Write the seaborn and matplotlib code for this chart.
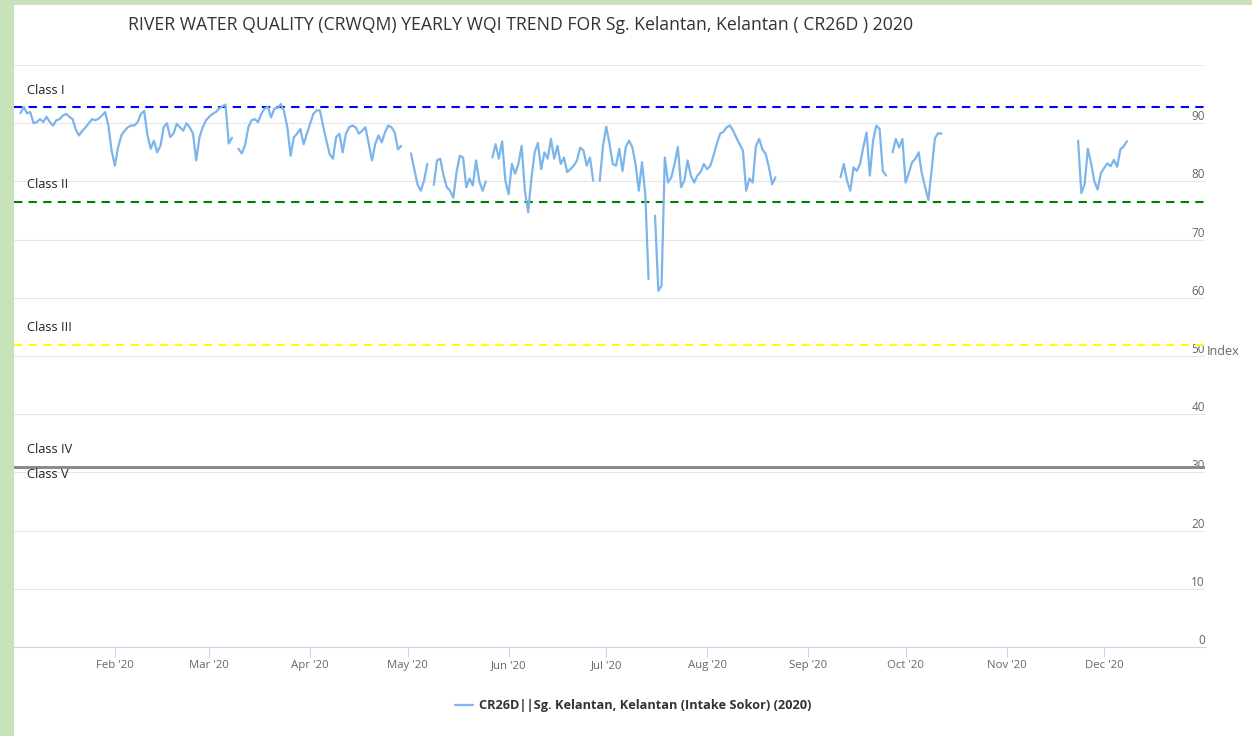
import pandas as pd
import matplotlib.pyplot as plt
import matplotlib.transforms as mtransforms
from matplotlib.lines import Line2D
from matplotlib.patches import Rectangle
import seaborn as sns

# Daily WQI readings, one list per unbroken run of the station record
wqi_jan_mar = [91.7, 92.8, 91.7, 91.9, 90.0, 90.2, 90.7, 90.2, 91.1, 90.2,
               89.6, 90.5, 90.7, 91.3, 91.6, 91.1, 90.7, 88.9, 87.9, 88.7,
               89.3, 90.0, 90.7, 90.5, 90.8, 91.3, 91.9, 89.6, 85.3, 82.7,
               85.9, 87.9, 88.7, 89.3, 89.6, 89.6, 90.2, 91.6, 92.1, 88.0,
               85.6, 87.0, 85.0, 86.1, 89.3, 90.0, 87.6, 88.2, 89.9, 89.3,
               88.7, 90.0, 89.3, 88.2, 83.6, 87.6, 89.3, 90.5, 91.1, 91.6,
               91.9, 92.5, 92.9, 93.2, 86.5, 87.5]
wqi_mar_apr = [85.6, 84.8, 86.2, 89.3, 90.5, 90.7, 90.2, 91.6, 92.5, 92.8,
               91.0, 92.5, 92.6, 93.3, 92.0, 89.3, 84.4, 87.6, 88.2, 89.0,
               86.4, 88.2, 89.9, 91.6, 92.2, 92.2, 89.5, 87.0, 84.7, 83.9,
               87.6, 88.2, 85.0, 88.2, 89.3, 89.6, 89.3, 88.2, 88.7, 89.3,
               86.5, 83.6, 86.4, 87.9, 86.7, 88.4, 89.6, 89.3, 88.4, 85.5,
               86.1]
wqi_may_1 = [84.8, 82.1, 79.5, 78.4, 80.1, 83.0]
wqi_may_2 = [79.4, 83.6, 83.9, 81.0, 79.0, 78.4, 77.2, 81.6, 84.4, 84.1,
             79.0, 80.5, 79.3, 83.6, 80.0, 78.4, 80.0]
wqi_may_jun = [84.1, 86.4, 83.9, 86.9, 80.1, 77.8, 83.0, 81.3, 83.0, 86.1,
               78.4, 74.7, 80.5, 85.0, 86.6, 82.1, 85.0, 83.9, 87.3, 83.9,
               86.1, 83.0, 84.1, 81.6, 82.1, 82.7, 83.6, 85.8, 85.3, 82.7,
               84.1, 80.1]
wqi_jun_jul = [80.1, 86.1, 89.4, 86.5, 83.0, 82.7, 85.6, 81.8, 85.9, 87.0,
               85.9, 83.0, 78.4, 83.3, 77.8, 63.2]
wqi_jul_aug = [74.1, 61.2, 62.1, 84.1, 79.8, 80.7, 83.0, 85.9, 79.0, 80.1,
               83.6, 81.0, 79.8, 81.0, 81.6, 83.0, 82.1, 82.7, 84.5, 86.5,
               88.2, 88.5, 89.3, 89.6, 88.7, 87.5, 86.4, 85.3, 78.4, 80.5,
               79.8, 86.1, 87.3, 85.5, 84.7, 82.4, 79.5, 80.7]
wqi_sep = [80.7, 83.0, 80.1, 78.4, 82.4, 81.8, 83.0, 85.9, 88.4, 81.0,
           87.0, 89.6, 89.0, 81.8, 81.0]
wqi_sep_oct = [85.0, 87.3, 85.8, 87.3, 79.8, 81.5, 83.3, 83.9, 85.0, 81.3,
               79.0, 76.8, 82.0, 87.4, 88.3, 88.2]
wqi_nov_dec = [87.0, 78.0, 79.5, 85.6, 83.1, 80.0, 78.6, 81.4, 82.3, 83.1,
               82.6, 83.7, 82.5, 85.5, 86.0, 86.9]

run_starts = ['2020-01-03', '2020-03-10', '2020-05-02', '2020-05-09', '2020-05-27',
              '2020-06-29', '2020-07-16', '2020-09-11', '2020-09-27', '2020-11-23']
runs = [wqi_jan_mar, wqi_mar_apr, wqi_may_1, wqi_may_2, wqi_may_jun,
        wqi_jun_jul, wqi_jul_aug, wqi_sep, wqi_sep_oct, wqi_nov_dec]

station = 'CR26D||Sg. Kelantan, Kelantan (Intake Sokor) (2020)'
title = 'RIVER WATER QUALITY (CRWQM) YEARLY WQI TREND FOR Sg. Kelantan, Kelantan ( CR26D ) 2020'

# WQI class limits
class_names = ['Class I', 'Class II', 'Class III', 'Class IV', 'Class V']
class_limits = [92.7, 76.5, 51.9, 31.0, 31.0]
class_colors = ['#0000ff', '#008000', '#ffff00', '#8a8a8a', '#8a8a8a']

month_ticks = pd.date_range('2020-02-01', '2020-12-01', freq='MS')
y_ticks = list(range(0, 101, 10))

# Build long table, one unit per run so gaps stay open
frames = []
for i, (start, vals) in enumerate(zip(run_starts, runs)):
    dates = pd.date_range(start, periods=len(vals), freq='D')
    frames.append(pd.DataFrame({'date': dates, 'wqi': vals, 'run': i}))
df = pd.concat(frames, ignore_index=True)

sns.set_theme(style='white')
plt.rcParams['font.family'] = ['Open Sans', 'DejaVu Sans']

W, H = 1252, 736
fig = plt.figure(figsize=(W / 100, H / 100), dpi=100)
fig.patch.set_facecolor('#c8e2b9')
fig.add_artist(Rectangle((14 / W, 0), 1, (H - 5) / H, transform=fig.transFigure,
                         facecolor='white', edgecolor='none', zorder=-5))

ax = fig.add_axes([14 / W, 89 / H, 1191 / W, 582 / H])
ax.set_facecolor('white')

sns.lineplot(data=df, x='date', y='wqi', units='run', estimator=None,
             color='#7cb5ec', linewidth=1.6, ax=ax, legend=False, zorder=3)

# class limit lines and their labels
trans = mtransforms.blended_transform_factory(ax.transAxes, ax.transData)
for name, lim, col in zip(class_names, class_limits, class_colors):
    if name in ('Class IV', 'Class V'):
        ax.axhline(lim, color=col, lw=1.9, zorder=2)
    else:
        ax.axhline(lim, color=col, lw=1.5, linestyle=(0, (4, 3)), zorder=2)
    dy = -5.5 if name == 'Class V' else 12.2
    ax.annotate(name, xy=(0, lim), xycoords=trans, xytext=(9.4, dy),
                textcoords='offset points', ha='left', va='center',
                fontsize=9.2, color='#222222')

ax.set_xlim(pd.Timestamp('2020-01-01'), pd.Timestamp('2021-01-01'))
ax.set_xticks(month_ticks)
ax.set_xticklabels([d.strftime("%b '%y") for d in month_ticks])
ax.tick_params(axis='x', bottom=True, length=7.2, width=0.8, color='#ccd6eb',
               labelcolor='#666666', labelsize=8.2, pad=2.5)

ax.set_ylim(0, 100)
ax.set_yticks(y_ticks)
ax.set_yticklabels([str(v) if v < 100 else '' for v in y_ticks])
ax.yaxis.tick_right()
ax.tick_params(axis='y', length=0, pad=0, labelsize=8.5, labelcolor='#666666')
for lab in ax.get_yticklabels():
    lab.set_ha('right')
    lab.set_va('bottom')
ax.grid(axis='y', color='#e6e6e6', lw=0.8)
ax.grid(axis='x', visible=False)

ax.set_xlabel('')
ax.yaxis.set_label_position('right')
ax.set_ylabel('Index', rotation=0, color='#666666', fontsize=9, ha='left', va='center')
ax.yaxis.set_label_coords(1.0015, 0.508)

for side in ['top', 'left', 'right']:
    ax.spines[side].set_visible(False)
ax.spines['bottom'].set_color('#ccd6eb')
ax.spines['bottom'].set_linewidth(0.8)

fig.text(521 / W, 1 - 25 / H, title, ha='center', va='center', fontsize=12.7, color='#333333')

handle = Line2D([], [], color='#7cb5ec', lw=1.6)
fig.legend([handle], [station], loc='center', bbox_to_anchor=(633 / W, 30 / H),
           frameon=False, prop={'weight': 'bold', 'size': 9.2}, labelcolor='#333333',
           handlelength=1.4, handletextpad=0.5)

fig.savefig('out.png', dpi=100)
